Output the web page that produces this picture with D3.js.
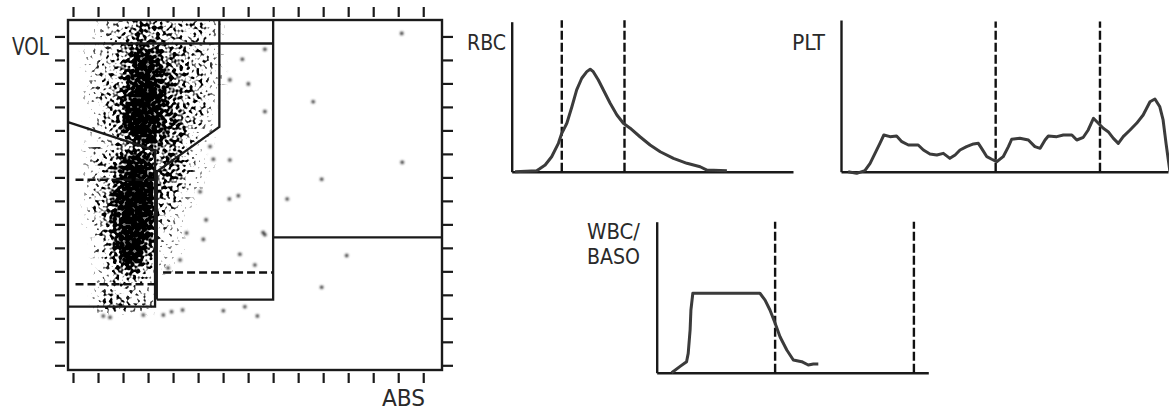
<!DOCTYPE html>
<html><head><meta charset="utf-8">
<script src="https://cdn.jsdelivr.net/npm/d3@7"></script>
<style>
html,body{margin:0;padding:0;background:#fff;}
svg{display:block;}
text{font-family:"Liberation Sans Narrow","DejaVu Sans Condensed","Liberation Sans",sans-serif;fill:#2a2a2a;}
</style></head>
<body>
<script>
// ---------- DATA ----------
// Scatter (ABS vs VOL) tick positions
const xTicks = [0,1,2,3,4,5,6,7,8,9,10,11,12,13,14];
const yTicks = [0,1,2,3,4,5,6,7,8,9,10,11,12,13,14];
// density of events per 0.4 x 0.4 cell, rows from top (VOL 14.7) downward, cols from ABS 0 rightward (0-9)
const densityRows = [
 "00122355433332100000",
 "00123354433232100000",
 "00122455433322000000",
 "01223577644332100000",
 "01233588644332100000",
 "01233688654332100000",
 "01233688754332100000",
 "01234698754432100000",
 "01234799754332000000",
 "00234799754332000000",
 "00134799755331000000",
 "01234799755321000000",
 "00113588654321000000",
 "01223456544210000000",
 "01234676354210000000",
 "01335887354311000000",
 "01235898454210000000",
 "01236998443210000000",
 "01347998432100000000",
 "01347999332100000000",
 "01347998321000000000",
 "01247998221000000000",
 "00247997221000000000",
 "00237996211000000000",
 "00236985111000000000",
 "00135874110000000000",
 "00124653110000000000",
 "00123332000000000000",
 "00122221000000000000",
 "00233222000000000000",
 "00244322000000000000"
];
// isolated events [ABS, VOL]
const outliers = [
 [13.14,14.13],[6.77,13.03],[6.27,12.15],[7.01,11.98],[9.60,11.22],[7.67,10.80],
 [13.16,8.64],[9.94,7.92],[6.27,8.74],[5.61,8.77],[8.56,7.08],[6.61,7.22],[6.25,7.08],
 [5.32,6.19],[7.67,5.56],[7.60,5.65],[5.21,5.36],[6.67,4.73],[10.94,4.67],[9.94,3.32],
 [6.01,2.32],[6.87,2.49],[7.37,2.10],[4.38,2.35],[3.94,2.28],[3.61,2.14],[2.81,2.14],
 [1.48,2.04],[1.21,2.10],[7.27,4.27],[4.28,4.48],[5.08,7.39],[7.67,13.45],[4.54,5.63],
 [3.80,4.14],[5.48,9.31]
];
// gates [ABS, VOL]
const gateSolid = [
 [[-0.2,13.7],[8,13.7]],
 [[8,14.7],[8,2.8],[3.35,2.8]],
 [[5.85,14.7],[5.85,10.15],[3.35,8.25],[3.35,2.8]],
 [[-0.2,10.35],[3.28,9.15],[3.28,2.5],[-0.2,2.5]],
 [[8,5.45],[14.75,5.45]]
];
const gateDashed = [
 [[0.1,7.9],[3.28,7.9]],
 [[0.1,3.45],[3.28,3.45]],
 [[3.6,3.95],[8,3.95]]
];
// Histograms: [channel, count] in % of axis
const rbcCurve = [[1.2,0],[8.9,0.7],[11.9,4.5],[14.2,10],[16.6,18.9],[17.8,25.6],[19.6,32.3],[21.4,43.3],
 [23.1,54.5],[24.9,62.3],[26.7,66.7],[27.9,68.3],[29.0,66.7],[30.8,61.1],[32.6,54.5],[35.0,45.6],
 [37.4,37.8],[39.7,32.3],[42.1,29.0],[45.6,23.3],[49.2,17.8],[52.8,13.3],[57.5,8.9],[62.3,5.6],
 [67.0,3.3],[69.4,1.1],[76.5,0.7]];
const rbcThresholds = [17.8, 40.1];
const pltCurve = [[2.2,0],[4.8,-1.1],[7.3,0.7],[8.9,5.5],[10.4,12.1],[11.9,18.7],[13.1,24.2],[15.0,23.1],
 [17.0,23.5],[18.6,19.8],[20.6,17.6],[23.6,17.6],[25.2,14.3],[27.2,11.7],[29.3,11.0],[31.3,12.1],
 [33.3,8.8],[34.9,11.0],[36.4,14.3],[38.4,16.5],[40.5,18.3],[42.0,18.7],[43.0,15.4],[44.6,9.9],
 [46.1,8.2],[47.6,6.6],[49.6,9.9],[51.2,16.5],[52.2,21.4],[54.7,22.0],[57.3,20.9],[59.3,16.5],
 [60.9,15.4],[62.4,20.9],[63.4,23.5],[66.0,23.1],[68.0,24.2],[70.6,24.2],[72.1,20.9],[74.1,22.7],
 [75.6,27.5],[77.2,35.2],[78.7,31.9],[80.2,28.6],[81.7,26.4],[83.3,22.0],[84.8,18.7],[86.3,23.1],
 [88.4,27.5],[90.4,31.9],[92.4,37.4],[94.5,46.1],[96.0,47.9],[97.5,42.8],[98.5,34.1],[99.4,18.7],
 [100.1,7.7],[100.6,0]];
const pltThresholds = [47.3, 79.2];
const wbcCurve = [[5.5,0],[8.5,4.0],[11.0,7.3],[11.6,12.8],[12.3,28.3],[12.6,41.5],[13.3,52.6],
 [38.0,52.6],[39.9,48.1],[41.7,41.5],[43.6,32.7],[45.4,23.8],[47.9,15.0],[50.3,8.4],[53.4,7.3],
 [55.8,5.1],[57.7,5.8],[59.5,5.8]];
const wbcThresholds = [43.6, 94.7];

// ---------- CHART ----------
const W = 1169, H = 411;
const svg = d3.select("body").append("svg").attr("width", W).attr("height", H);
const defs = svg.append("defs");

// speckle rendering of the density field
const grain = defs.append("filter").attr("id","grain").attr("filterUnits","userSpaceOnUse")
  .attr("x",60).attr("y",15).attr("width",400).attr("height",360);
grain.append("feGaussianBlur").attr("in","SourceGraphic").attr("stdDeviation",2.4).attr("result","b");
grain.append("feTurbulence").attr("type","fractalNoise").attr("baseFrequency",0.3).attr("numOctaves",1).attr("seed",11).attr("result","n");
grain.append("feColorMatrix").attr("in","n").attr("type","matrix")
  .attr("values","0 0 0 0 0  0 0 0 0 0  0 0 0 0 0  0 0 0 2.6 -0.8").attr("result","n2");
grain.append("feComposite").attr("in","b").attr("in2","n2").attr("operator","arithmetic")
  .attr("k1",0).attr("k2",3.1).attr("k3",2.4).attr("k4",-2.4).attr("result","c");
grain.append("feGaussianBlur").attr("in","c").attr("stdDeviation",0.6);

const soft = defs.append("filter").attr("id","soft");
soft.append("feGaussianBlur").attr("stdDeviation",0.8);
const softLine = defs.append("filter").attr("id","softLine");
softLine.append("feGaussianBlur").attr("stdDeviation",0.45);

defs.append("clipPath").attr("id","frameClip").append("rect")
  .attr("x",68).attr("y",20).attr("width",374).attr("height",350);

// Scatter scales
const sx = d3.scaleLinear().domain([-0.2, 14.75]).range([68, 442]);
const sy = d3.scaleLinear().domain([-0.2, 14.7]).range([370, 20]);
const cell = 0.4, yTop = 14.7;

const cells = [];
densityRows.forEach((row, r) => {
  row.split("").forEach((ch, c) => {
    const d = +ch;
    if (d > 0) cells.push({c, r, d});
  });
});

const dens = svg.append("g").attr("clip-path","url(#frameClip)").append("g").attr("filter","url(#grain)");
dens.selectAll("rect").data(cells).join("rect")
  .attr("x", d => sx(d.c*cell))
  .attr("y", d => sy(yTop - d.r*cell))
  .attr("width", d => sx((d.c+1)*cell) - sx(d.c*cell) + 0.5)
  .attr("height", d => sy(yTop - (d.r+1)*cell) - sy(yTop - d.r*cell) + 0.5)
  .attr("fill", "#000")
  .attr("fill-opacity", d => Math.min(1, 0.04 + d.d/9));

svg.append("g").attr("filter","url(#soft)").selectAll("circle").data(outliers).join("circle")
  .attr("cx", d => sx(d[0])).attr("cy", d => sy(d[1])).attr("r", 1.8).attr("fill", "#333");

// frame
svg.append("rect").attr("x",sx(-0.2)).attr("y",sy(14.7)).attr("width",sx(14.75)-sx(-0.2)).attr("height",sy(-0.2)-sy(14.7))
  .attr("fill","none").attr("stroke","#1a1a1a").attr("stroke-width",2.4);

// ticks on four sides
const tickStyle = g => { g.select(".domain").remove(); g.selectAll(".tick line").attr("stroke","#1a1a1a").attr("stroke-width",2.2); g.selectAll(".tick text").remove(); };
svg.append("g").attr("transform","translate(0,373)").call(d3.axisBottom(sx).tickValues(xTicks).tickSize(10).tickFormat("")).call(tickStyle);
svg.append("g").attr("transform","translate(0,17)").call(d3.axisTop(sx).tickValues(xTicks).tickSize(10).tickFormat("")).call(tickStyle);
svg.append("g").attr("transform","translate(65,0)").call(d3.axisLeft(sy).tickValues(yTicks).tickSize(10).tickFormat("")).call(tickStyle);
svg.append("g").attr("transform","translate(443,0)").call(d3.axisRight(sy).tickValues(yTicks).tickSize(10).tickFormat("")).call(tickStyle);

// gates
const gLine = d3.line().x(d => sx(d[0])).y(d => sy(d[1]));
svg.append("g").selectAll("path").data(gateSolid).join("path")
  .attr("d", gLine).attr("fill","none").attr("stroke","#1a1a1a").attr("stroke-width",2.3).attr("stroke-linejoin","miter");
svg.append("g").selectAll("path").data(gateDashed).join("path")
  .attr("d", gLine).attr("fill","none").attr("stroke","#111").attr("stroke-width",2.6).attr("stroke-dasharray","8,4");

// labels
function label(txt, x, y, size, len) {
  svg.append("text").attr("x",x).attr("y",y).attr("font-size",size)
    .attr("textLength",len).attr("lengthAdjust","spacingAndGlyphs").text(txt);
}
label("VOL", 12, 55, 24, 37);
label("ABS", 382, 406, 23, 43);

// histograms
function histogram(cfg) {
  const x = d3.scaleLinear().domain([0,100]).range(cfg.xr);
  const y = d3.scaleLinear().domain([0,100]).range(cfg.yr);
  const g = svg.append("g");
  const axStyle = a => a.select(".domain").attr("stroke","#1a1a1a").attr("stroke-width",2.4);
  g.append("g").attr("transform",`translate(0,${cfg.yr[0]})`).call(d3.axisBottom(x).tickValues([]).tickSizeOuter(0)).call(axStyle);
  g.append("g").attr("transform",`translate(${cfg.xr[0]},0)`).call(d3.axisLeft(y).tickValues([]).tickSizeOuter(0)).call(axStyle);
  g.append("g").selectAll("line").data(cfg.thr).join("line")
    .attr("x1", d => x(d)).attr("x2", d => x(d))
    .attr("y1", y(0)).attr("y2", y(cfg.dashTop))
    .attr("stroke","#111").attr("stroke-width",2.4).attr("stroke-dasharray","9,3");
  g.append("path").datum(cfg.curve)
    .attr("d", d3.line().x(d => x(d[0])).y(d => y(d[1])))
    .attr("fill","none").attr("stroke","#3a3a3a").attr("stroke-width",3).attr("stroke-linejoin","round")
    .attr("filter","url(#softLine)");
}
histogram({xr:[511.7,793], yr:[171.7,21.7], curve:rbcCurve, thr:rbcThresholds, dashTop:101});
histogram({xr:[841,1168], yr:[171.7,20], curve:pltCurve, thr:pltThresholds, dashTop:99});
histogram({xr:[656.7,928.3], yr:[372.7,221.7], curve:wbcCurve, thr:wbcThresholds, dashTop:100});

label("RBC", 467, 50, 21, 39);
label("PLT", 792, 50, 21, 33);
label("WBC/", 587, 239, 22, 53);
label("BASO", 587, 264, 22, 53);
</script>
</body></html>
